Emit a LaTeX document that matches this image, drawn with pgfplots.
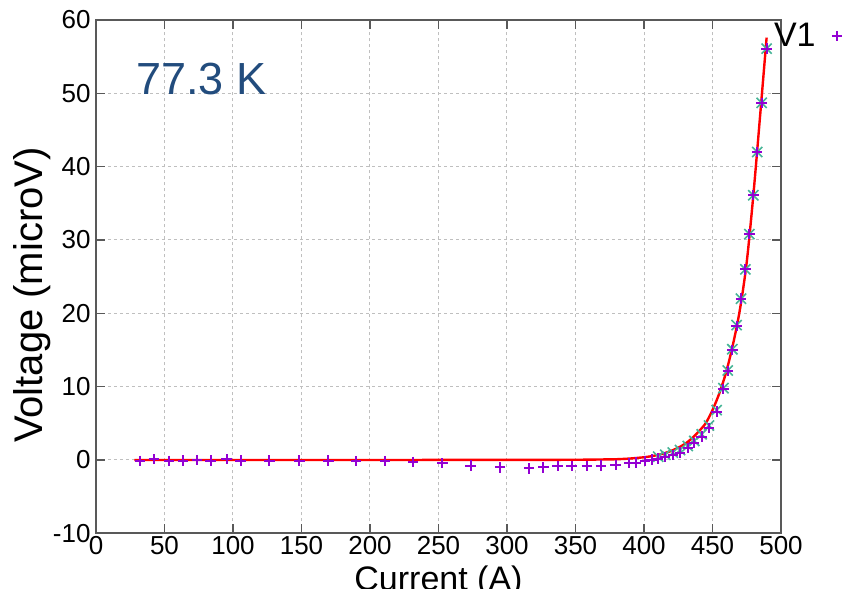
\documentclass[border=0pt]{standalone}
\usepackage{fontspec}
\setmainfont{Liberation Sans}
\usepackage{pgfplots}
\usepackage{pgfplotstable}
\pgfplotsset{compat=1.18}
\definecolor{v1purple}{RGB}{148,0,211}
\definecolor{v2green}{RGB}{70,180,150}
\definecolor{labelblue}{RGB}{34,76,125}

% V1 measurements
\pgfplotstableread{
I V
32.1 -0.10
42.3 0.10
53.5 -0.12
63.3 -0.08
73.9 0.00
83.7 -0.08
95.4 0.10
105.6 -0.08
126.5 -0.08
148.4 -0.08
169.6 -0.08
189.8 -0.17
211.0 -0.15
231.6 -0.25
252.8 -0.45
273.5 -0.77
294.9 -1.00
316.1 -1.14
326.5 -1.00
337.0 -0.82
347.2 -0.82
358.2 -0.82
368.6 -0.77
379.3 -0.68
389.3 -0.45
394.2 -0.36
400.7 -0.14
405.6 0.05
410.4 0.18
415.5 0.40
421.0 0.70
426.3 1.00
431.9 1.60
436.7 2.30
442.1 3.20
447.4 4.40
453.0 6.60
458.0 9.70
461.1 12.10
464.5 15.00
467.6 18.30
470.8 22.00
474.0 26.00
476.9 30.80
479.8 36.10
482.7 42.00
485.9 48.70
489.5 56.10
}\vone

% second channel, only in the transition
\pgfplotstableread{
I V
410.4 0.45
415.5 0.70
421.0 1.00
426.3 1.35
431.9 1.90
436.7 2.60
442.1 3.50
447.4 4.70
453.0 6.80
458.0 9.80
461.1 12.20
464.5 15.10
467.6 18.40
470.8 22.00
474.0 26.00
476.9 30.80
479.8 36.10
482.7 42.00
485.9 48.70
489.5 56.10
}\vtwo

% fitted curve
\pgfplotstableread{
I V
28 0
100 0
200 0
300 0.01
350 0.03
370 0.07
380 0.10
390 0.20
400 0.37
405 0.50
410 0.68
415 0.92
420 1.25
425 1.68
430 2.20
435 2.95
440 3.90
445 5.00
450 6.80
455 9.10
460 12.00
465 15.80
470 20.50
475 27.00
480 36.50
485 47.50
489.5 57.60
}\vfit

\begin{document}
\begin{tikzpicture}
\begin{axis}[
  scale only axis, width=342.5pt, height=256.65pt,
  xmin=0, xmax=500, ymin=-10, ymax=60,
  xtick={0,50,...,500}, ytick={-10,0,...,60},
  xticklabels={0,50,100,150,200,250,300,350,400,450,500},
  yticklabels={-10,0,10,20,30,40,50,60},
  tick label style={font=\fontsize{13}{13}\selectfont},
  xticklabel style={yshift=2pt},
  yticklabel style={xshift=0.8pt},
  tick align=inside, major tick length=4.5pt,
  every tick/.style={black!65, line width=0.6pt},
  axis line style={black!65, line width=0.8pt},
  grid=major,
  major grid style={gray!50, dash pattern=on 1.5pt off 1.5pt, line width=0.5pt},
  xlabel={Current (A)}, ylabel={Voltage (microV)},
  xlabel style={font=\fontsize{17}{17}\selectfont, at={(axis description cs:0.5,-0.112)}, anchor=base},
  ylabel style={font=\fontsize{20}{20}\selectfont, at={(axis description cs:-0.0774,0.464)}, anchor=base},
  legend plot pos=right,
  legend image code/.code={\path (0cm,0cm); \draw[#1] plot coordinates {(0.3cm,0cm)};},
  legend style={draw=none, fill=none, font=\fontsize{17}{17}\selectfont,
    at={(axis cs:487.3,57.8)}, anchor=west},
]
\addplot[only marks, mark=x, mark size=3.6pt, color=v2green, mark options={line width=0.8pt}, forget plot] table[x=I, y=V] {\vtwo};
\addplot[only marks, mark=+, mark size=2.6pt, color=v1purple, mark options={line width=1pt}] table[x=I, y=V] {\vone};
\addlegendentry{V1}
\addplot[red, line width=1.2pt, smooth, forget plot] table[x=I, y=V] {\vfit};
\node[anchor=base west, inner sep=0pt, text=labelblue, font=\fontsize{22.5}{22.5}\selectfont] at (axis cs:29,49.8) {77.3 K};
\end{axis}
\pgfresetboundingbox
\useasboundingbox (-48pt,-27.85pt) rectangle (375.5pt,266.65pt);
\end{tikzpicture}
\end{document}
